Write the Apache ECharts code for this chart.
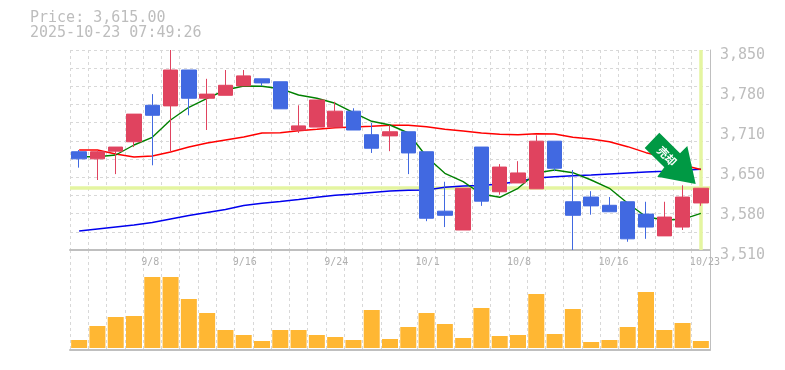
<!DOCTYPE html>
<html><head><meta charset="utf-8">
<style>html,body{margin:0;padding:0;background:#fff}#c{width:785px;height:370px}</style>
<script src="https://cdn.jsdelivr.net/npm/echarts@6/dist/echarts.min.js"></script>
</head><body><div id="c"></div>
<script>
const categories = ['9/2','9/3','9/4','9/5','9/8','9/9','9/10','9/11','9/12','9/16','9/17','9/18','9/19','9/22','9/24','9/25','9/26','9/29','9/30','10/1','10/2','10/3','10/6','10/7','10/8','10/9','10/10','10/14','10/15','10/16','10/17','10/20','10/21','10/22','10/23'];
const shownDates = ['9/8','9/16','9/24','10/1','10/8','10/16','10/23'];
const opens  = [3677,3665,3678,3694,3756,3755,3816,3768,3773,3789,3801,3796,3714,3719,3719,3746,3706,3704,3711,3677,3576,3544,3685,3609,3624,3614,3695,3592,3600,3586,3592,3571,3534,3549,3590];
const closes = [3665,3677,3685,3741,3739,3816,3768,3775,3790,3806,3794,3750,3721,3765,3746,3714,3683,3711,3675,3564,3569,3615,3593,3651,3641,3695,3649,3569,3585,3575,3529,3549,3566,3600,3615];
const lows   = [3650,3629,3639,3685,3654,3677,3739,3714,3773,3789,3789,3750,3709,3719,3719,3714,3675,3678,3639,3559,3549,3544,3585,3604,3624,3614,3644,3510,3570,3575,3524,3529,3534,3544,3585];
const highs  = [3680,3680,3685,3741,3775,3850,3816,3801,3816,3816,3801,3796,3756,3765,3762,3751,3726,3722,3711,3677,3626,3615,3685,3656,3661,3705,3695,3646,3610,3600,3592,3592,3592,3620,3615];
const maShort = [3668.6,3668.6,3671.5,3688.5,3701.6,3731,3752.6,3767.9,3782,3788.8,3788.3,3784.2,3773.5,3767.9,3759.4,3743.4,3728.8,3722.5,3708.9,3668.6,3640.4,3626.1,3605.2,3599.6,3614.9,3640.9,3646,3641.4,3629,3614.9,3589.4,3566.6,3561,3562.2,3572.4];
const maMid   = [3680,3680,3673.2,3668.1,3669.8,3676.6,3685.1,3691.9,3697,3702.1,3708.9,3709.4,3712.8,3715.2,3717.9,3719.1,3720.3,3722,3722,3719.6,3715.2,3712.3,3708.9,3706.7,3706,3707.7,3707.2,3701.6,3698.7,3694.1,3685.6,3675.4,3668.1,3654.5,3646.9];
const maLong  = [3542.3,3545.7,3549.1,3552.5,3556.8,3562.7,3568.7,3573.8,3578.9,3585.7,3589.4,3592.5,3595.9,3599.6,3603,3605.2,3607.8,3610.3,3611.5,3612,3616.6,3618.8,3619.7,3622.2,3626.5,3632.4,3634.4,3636.3,3637.5,3639.2,3640.9,3642.6,3644,3645.5,3647.2];
const volumes = [8,22,31,32,71,71,49,35,18,13,7,18,18,13,11,8,38,9,21,35,24,10,40,12,13,54,14,39,6,8,21,56,18,25,7];
const currentPrice = 3615;

const GRID = '#d8d8d8', AXIS = '#bfbfbf', TEXT = '#bdbdbd', MONO = '"DejaVu Sans Mono", monospace';
const lineSeries = (data, color) => ({type:'line', data, xAxisIndex:0, yAxisIndex:0, symbol:'none', z:2, silent:true,
  lineStyle:{color, width:1.4}});

const chart = echarts.init(document.getElementById('c'), null, {renderer:'canvas'});
chart.setOption({
  animation:false,
  backgroundColor:'#fff',
  title:{text:'Price: 3,615.00\n2025-10-23 07:49:26', left:25, top:6,
    textStyle:{color:TEXT, fontFamily:MONO, fontSize:15, fontWeight:'normal', lineHeight:15}},
  grid:[
    {left:70, right:75, top:50, height:200},
    {left:70, right:75, top:250, height:100}
  ],
  xAxis:[
    {type:'category', gridIndex:0, data:categories, boundaryGap:true,
     axisTick:{show:false}, axisLine:{onZero:false, lineStyle:{color:AXIS, width:2}},
     splitLine:{show:true, interval:0, lineStyle:{color:GRID, type:[3,3]}},
     axisLabel:{interval:0, margin:7, color:'#b0b0b0', fontFamily:MONO, fontSize:10, align:'left', padding:[0,0,0,-11],
       formatter:v => shownDates.includes(v) ? v : ''}},
    {type:'category', gridIndex:1, data:categories, boundaryGap:true,
     axisTick:{show:false}, axisLabel:{show:false}, axisLine:{onZero:false, lineStyle:{color:AXIS, width:2}},
     splitLine:{show:true, interval:0, lineStyle:{color:GRID, type:[3,3]}}}
  ],
  yAxis:[
    {type:'value', gridIndex:0, position:'right', min:3510, max:3850, interval:68, scale:true,
     splitLine:{show:false}, axisTick:{show:false},
     axisLine:{show:true, lineStyle:{color:AXIS, width:1}},
     axisLabel:{margin:10, color:TEXT, fontFamily:MONO, fontSize:15, align:'left', verticalAlign:'top', padding:[-2,0,0,0],
       formatter:v => (Math.round(v/10)*10).toLocaleString('en-US')}},
    {type:'value', gridIndex:0, position:'left', min:0, max:11, interval:1,
     axisLine:{show:false}, axisTick:{show:false}, axisLabel:{show:false},
     splitLine:{show:true, lineStyle:{color:GRID, type:[3,3]}}},
    {type:'value', gridIndex:1, position:'right', min:-2, max:98,
     axisLabel:{show:false}, axisTick:{show:false}, splitLine:{show:false},
     axisLine:{show:true, onZero:false, lineStyle:{color:AXIS, width:1}}}
  ],
  series:[
    {type:'line', data:[], xAxisIndex:0, yAxisIndex:0, silent:true, z:1,
     markLine:{silent:true, symbol:'none', label:{show:false}, z:1, animation:false,
       lineStyle:{color:'#e4f5a0', width:3.5, type:'solid', opacity:1},
       data:[{yAxis:currentPrice},{xAxis:'10/23'}]}},
    lineSeries(maLong,'#0000ee'),
    lineSeries(maMid,'#ff0000'),
    lineSeries(maShort,'#008000'),
    {type:'candlestick', xAxisIndex:0, yAxisIndex:0, z:3, barWidth:15, silent:true,
     data:categories.map((c,i)=>[opens[i],closes[i],lows[i],highs[i]]),
     itemStyle:{color:'#e0435f', color0:'#4169e1', borderColor:'#e0435f', borderColor0:'#4169e1', borderWidth:1}},
    {type:'bar', xAxisIndex:1, yAxisIndex:2, data:volumes, barWidth:16, silent:true, z:3,
     itemStyle:{color:'#ffb733'}}
  ],
  graphic:[
    {type:'polygon', z:10, silent:true,
     shape:{points:[[659.3,132.7],[644.7,148],[664.3,167.3],[657.3,176.7],[695.7,184],[687.3,146],[680,153.3]]},
     style:{fill:'#009944'}},
    {type:'text', z:11, silent:true, x:667, y:156, rotation:-Math.PI/4,
     style:{text:'売却', fill:'#fff', font:'bold 11px "Noto Sans CJK JP"', align:'center', verticalAlign:'middle'}}
  ]
});
</script></body></html>
